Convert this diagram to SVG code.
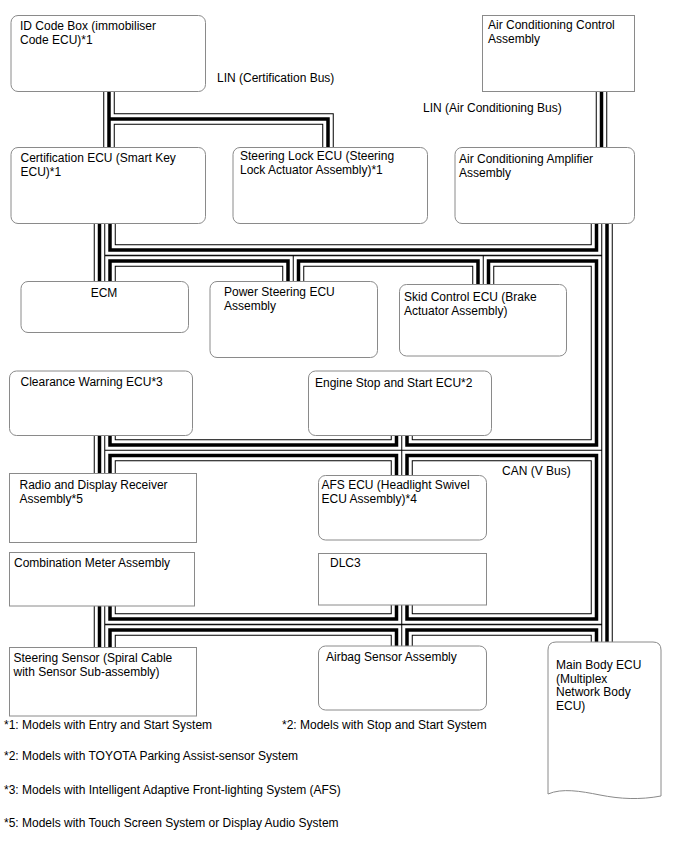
<svg xmlns="http://www.w3.org/2000/svg" xmlns:xlink="http://www.w3.org/1999/xlink" width="688" height="852" viewBox="0 0 688 852">
<style>
.box{fill:#fff;stroke:#8a8a8a;stroke-width:1}
text{font-family:"Liberation Sans",Arial,Helvetica,sans-serif;font-size:12px;fill:#000}
</style>
<defs>
<g id="busLines" fill="none">
<path d="M109,90 V150 M109,119 H328 V150"/>
<path d="M601.5,90 V150"/>
<path d="M110,221 V250 H596.5 V221"/>
<path d="M607,221 V645"/>
<path d="M99.5,221 V284"/>
<path d="M110,284 V261 H288 V284"/>
<path d="M298.5,284 V261 H478 V287"/>
<path d="M488.5,287 V261 H596.5 V445 H407 V434"/>
<path d="M396.5,434 V445 H110 V434"/>
<path d="M99.5,434 V476"/>
<path d="M110,476 V455.5 H396.5 V478"/>
<path d="M407,478 V455.5 H596.5 V619 H407 V603"/>
<path d="M396.5,603 V619 H110 V604"/>
<path d="M99.5,604 V650"/>
<path d="M110,650 V630 H396.5 V648"/>
<path d="M407,648 V630 H596.5 V644"/>
</g>
</defs>
<rect width="688" height="852" fill="#fff"/>
<g id="connectors" stroke-linejoin="miter">
<use xlink:href="#busLines" stroke="#000" stroke-width="11.5"/>
<use xlink:href="#busLines" stroke="#fff" stroke-width="9.5"/>
<use xlink:href="#busLines" stroke="#000" stroke-width="3.5"/>
</g>
<g id="id-code-box"><rect class="box" x="11" y="15.5" width="194.5" height="76" rx="7"/><text x="20" y="29.5">ID Code Box (immobiliser</text><text x="20" y="43.5">Code ECU)*1</text></g>
<g id="ac-control"><rect class="box" x="482.5" y="15.5" width="152" height="76"/><text x="488" y="28.5">Air Conditioning Control</text><text x="488" y="42.5">Assembly</text></g>
<g id="lin-cert-label"><text x="217" y="81.5">LIN (Certification Bus)</text></g>
<g id="lin-ac-label"><text x="423" y="111.5">LIN (Air Conditioning Bus)</text></g>
<g id="certification-ecu"><rect class="box" x="11" y="147.5" width="194.5" height="76" rx="7"/><text x="20.5" y="161.5">Certification ECU (Smart Key</text><text x="20.5" y="175.5">ECU)*1</text></g>
<g id="steering-lock-ecu"><rect class="box" x="233" y="147.5" width="194.5" height="76" rx="7"/><text x="240" y="160">Steering Lock ECU (Steering</text><text x="240" y="174">Lock Actuator Assembly)*1</text></g>
<g id="ac-amplifier"><rect class="box" x="455" y="147.5" width="179.5" height="76" rx="7"/><text x="459" y="163">Air Conditioning Amplifier</text><text x="459" y="177">Assembly</text></g>
<g id="ecm"><rect class="box" x="21" y="281.5" width="167.5" height="51" rx="7"/><text x="104" y="296.5" text-anchor="middle">ECM</text></g>
<g id="power-steering-ecu"><rect class="box" x="210" y="281.5" width="167.5" height="76" rx="7"/><text x="224" y="296">Power Steering ECU</text><text x="224" y="310">Assembly</text></g>
<g id="skid-control-ecu"><rect class="box" x="399.5" y="284.5" width="167" height="71.5" rx="7"/><text x="404" y="301">Skid Control ECU (Brake</text><text x="404" y="315">Actuator Assembly)</text></g>
<g id="clearance-warning-ecu"><rect class="box" x="9.5" y="371" width="183" height="64.5" rx="7"/><text x="20.5" y="386">Clearance Warning ECU*3</text></g>
<g id="engine-stop-start-ecu"><rect class="box" x="308.5" y="371" width="183" height="64.5" rx="7"/><text x="315" y="386.5">Engine Stop and Start ECU*2</text></g>
<g id="radio-display-receiver"><rect class="box" x="9.5" y="473.5" width="187" height="69"/><text x="19.5" y="488.5">Radio and Display Receiver</text><text x="19.5" y="502.5">Assembly*5</text></g>
<g id="afs-ecu"><rect class="box" x="318.5" y="475.5" width="168" height="64.5" rx="7"/><text x="321.5" y="489">AFS ECU (Headlight Swivel</text><text x="321.5" y="503">ECU Assembly)*4</text></g>
<g id="can-label"><text x="502" y="474.5">CAN (V Bus)</text></g>
<g id="combination-meter"><rect class="box" x="9.5" y="552.5" width="185" height="53.5"/><text x="14" y="566.5">Combination Meter Assembly</text></g>
<g id="dlc3"><rect class="box" x="318.5" y="553.5" width="168" height="51.5"/><text x="330" y="566.5">DLC3</text></g>
<g id="steering-sensor"><rect class="box" x="9.5" y="647.5" width="187" height="68.5"/><text x="13.5" y="661.5">Steering Sensor (Spiral Cable</text><text x="13.5" y="675.5">with Sensor Sub-assembly)</text></g>
<g id="airbag-sensor"><rect class="box" x="318.5" y="646" width="168" height="64" rx="7"/><text x="326" y="660.5">Airbag Sensor Assembly</text></g>
<g id="main-body-ecu"><path class="box" d="M548,794 V650 Q548,642 556,642 H653 Q661,642 661,650 V796 C640,800 620,799 600,795 C580,791 562,788 548,794 Z"/><text x="556" y="669">Main Body ECU</text><text x="556" y="682.5">(Multiplex</text><text x="556" y="696">Network Body</text><text x="556" y="709.5">ECU)</text></g>
<g id="footnotes">
<text x="4" y="729">*1: Models with Entry and Start System</text>
<text x="282" y="728.5">*2: Models with Stop and Start System</text>
<text x="4" y="760">*2: Models with TOYOTA Parking Assist-sensor System</text>
<text x="4" y="793.5">*3: Models with Intelligent Adaptive Front-lighting System (AFS)</text>
<text x="4" y="826.5">*5: Models with Touch Screen System or Display Audio System</text>
</g>
</svg>
